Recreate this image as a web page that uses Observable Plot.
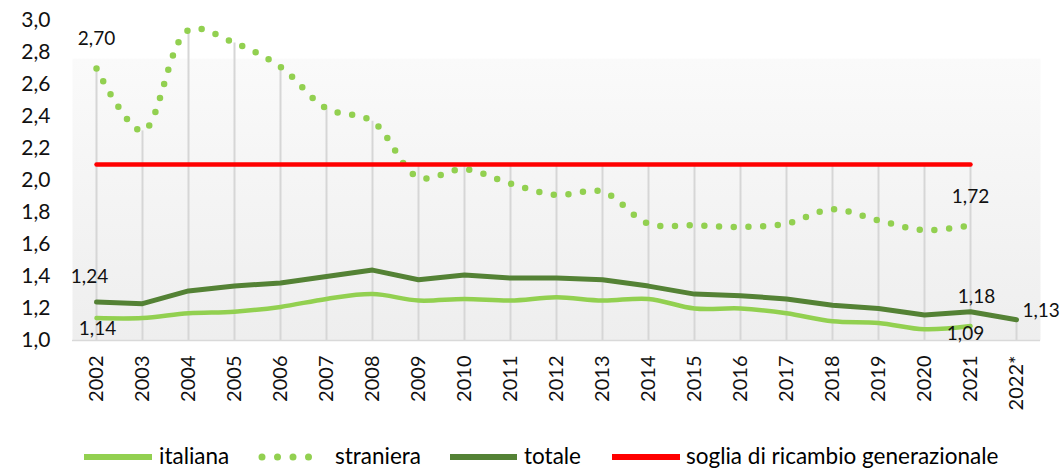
<!DOCTYPE html>
<html><head><meta charset="utf-8">
<script src="https://cdn.jsdelivr.net/npm/d3@7"></script>
<script src="https://cdn.jsdelivr.net/npm/@observablehq/plot@0.6"></script>
<style>
body{margin:0;background:#fff;font-family:Lato,"Open Sans",sans-serif;}
#wrap{position:relative;width:1060px;height:468px;overflow:hidden}
#legend{position:absolute;left:0;top:442px;width:1060px;height:28px}
.item{position:absolute;top:0;height:28px;line-height:28px;font-size:22.5px;color:#000;white-space:nowrap}
.sw{position:absolute;top:0}
</style></head><body><div id="wrap"><div id="chart"></div><div id="legend"></div></div>
<script>
// ---- data ----
const years = ["2002","2003","2004","2005","2006","2007","2008","2009","2010","2011","2012","2013","2014","2015","2016","2017","2018","2019","2020","2021","2022*"];
const italiana  = [1.14,1.14,1.17,1.18,1.21,1.26,1.29,1.25,1.26,1.25,1.27,1.25,1.26,1.20,1.20,1.17,1.12,1.11,1.07,1.09,null];
const straniera = [2.70,2.31,2.94,2.86,2.71,2.45,2.37,2.02,2.07,1.98,1.91,1.93,1.73,1.72,1.71,1.73,1.82,1.75,1.69,1.72,null];
const totale    = [1.24,1.23,1.31,1.34,1.36,1.40,1.44,1.38,1.41,1.39,1.39,1.38,1.34,1.29,1.28,1.26,1.22,1.20,1.16,1.18,1.13];
const soglia    = [2.1,2.1,2.1,2.1,2.1,2.1,2.1,2.1,2.1,2.1,2.1,2.1,2.1,2.1,2.1,2.1,2.1,2.1,2.1,2.1,null];
const yTicks = [1.0,1.2,1.4,1.6,1.8,2.0,2.2,2.4,2.6,2.8,3.0];
const seriesNames = ["italiana","straniera","totale","soglia di ricambio generazionale"];
// labelled points: [year, series]
const labelled = [["2002","straniera"],["2002","totale"],["2002","italiana"],["2021","straniera"],["2021","totale"],["2021","italiana"],["2022*","totale"]];

// ---- build ----
const C = {italiana:"#92D050", straniera:"#92D050", totale:"#548235", soglia:"#FF0000"};
const rowsOf = arr => years.map((y,i)=>({year:y, v:arr[i]})).filter(d=>d.v!=null);
const S = {italiana:rowsOf(italiana), straniera:rowsOf(straniera), totale:rowsOf(totale), soglia:rowsOf(soglia)};
const tops = years.map((y,i)=>({year:y, top:d3.max([italiana[i],straniera[i],totale[i],soglia[i]].filter(v=>v!=null))}));
const fmt2 = v => v.toFixed(2).replace(".", ",");
const val = (y,s) => S[s].find(d=>d.year===y).v;
const offs = {
  "2002|straniera":{dx:0,dy:-30,a:"middle"},
  "2002|totale":{dx:-7,dy:-25,a:"middle"},
  "2002|italiana":{dx:1,dy:11,a:"middle"},
  "2021|straniera":{dx:0,dy:-28,a:"middle"},
  "2021|totale":{dx:6,dy:-15,a:"middle"},
  "2021|italiana":{dx:-5,dy:8,a:"middle"},
  "2022*|totale":{dx:6,dy:-9,a:"start"}
};
const labelMarks = labelled.map(([y,s])=>{
  const o = offs[y+"|"+s];
  return Plot.text([{year:y, v:val(y,s)}], {x:"year", y:"v", text:d=>fmt2(d.v), dx:o.dx, dy:o.dy, textAnchor:o.a, fontSize:19, fill:"#111"});
});

const svg = Plot.plot({
  width:1060, height:440, marginLeft:72, marginRight:20, marginTop:20, marginBottom:100,
  style:{fontFamily:"Lato, 'Open Sans', sans-serif", color:"#111", overflow:"visible", background:"transparent"},
  x:{type:"point", domain:years, padding:0.5, label:null},
  y:{domain:[1,3], label:null},
  marks:[
    Plot.frame({fill:"url(#bgGrad)", stroke:"none"}),
    Plot.ruleX(tops, {x:"year", y1:1, y2:"top", stroke:"#d6d6d6", strokeWidth:2}),
    Plot.ruleY([1], {stroke:"#d9d9d9", strokeWidth:1.5}),
    Plot.axisY({ticks:yTicks, tickFormat:d=>d.toFixed(1).replace(".", ","), tickSize:0, tickPadding:22, fontSize:21, label:null}),
    Plot.axisX({tickRotate:-90, tickSize:0, tickPadding:15, fontSize:20, label:null}),
    Plot.line(S.italiana, {x:"year", y:"v", stroke:C.italiana, strokeWidth:4.5, curve:"catmull-rom"}),
    Plot.line(S.straniera, {x:"year", y:"v", stroke:C.straniera, strokeWidth:6.5, strokeDasharray:"0 14.7", strokeLinecap:"round", curve:"catmull-rom"}),
    Plot.line(S.totale, {x:"year", y:"v", stroke:C.totale, strokeWidth:5, strokeLinecap:"round", strokeLinejoin:"round"}),
    Plot.line(S.soglia, {x:"year", y:"v", stroke:C.soglia, strokeWidth:4.5, strokeLinecap:"round"}),
    ...labelMarks
  ]
});
const defs = document.createElementNS("http://www.w3.org/2000/svg","defs");
defs.innerHTML = '<linearGradient id="bgGrad" x1="0" y1="0" x2="0" y2="1">'+
  '<stop offset="0" stop-color="#ffffff"/><stop offset="0.118" stop-color="#ffffff"/>'+
  '<stop offset="0.12" stop-color="#fafafa"/><stop offset="1" stop-color="#eeeeee"/></linearGradient>';
svg.insertBefore(defs, svg.firstChild);
document.getElementById("chart").appendChild(svg);

// ---- legend ----
const legendCfg = [
  {key:"italiana", sx:84, sw:68, tx:159, dotted:false},
  {key:"straniera", sx:260, sw:51, tx:335, dotted:true},
  {key:"totale", sx:450, sw:67, tx:524, dotted:false},
  {key:"soglia", sx:612, sw:68, tx:686, dotted:false}
];
const lg = document.getElementById("legend");
legendCfg.forEach((c,i)=>{
  const sw = document.createElementNS("http://www.w3.org/2000/svg","svg");
  sw.setAttribute("width", c.sw+8); sw.setAttribute("height", 28);
  sw.setAttribute("class","sw"); sw.style.left = (c.sx-4)+"px";
  const ln = document.createElementNS("http://www.w3.org/2000/svg","line");
  ln.setAttribute("x1", 4+(c.dotted?2:0)); ln.setAttribute("x2", 4+c.sw-(c.dotted?2:0));
  ln.setAttribute("y1", 15); ln.setAttribute("y2", 15);
  ln.setAttribute("stroke", C[c.key]);
  ln.setAttribute("stroke-width", c.dotted?7:6);
  if (c.dotted){ ln.setAttribute("stroke-dasharray","0 15.5"); ln.setAttribute("stroke-linecap","round"); }
  sw.appendChild(ln); lg.appendChild(sw);
  const t = document.createElement("div");
  t.className="item"; t.style.left = c.tx+"px"; t.textContent = seriesNames[i];
  lg.appendChild(t);
});
</script></body></html>
